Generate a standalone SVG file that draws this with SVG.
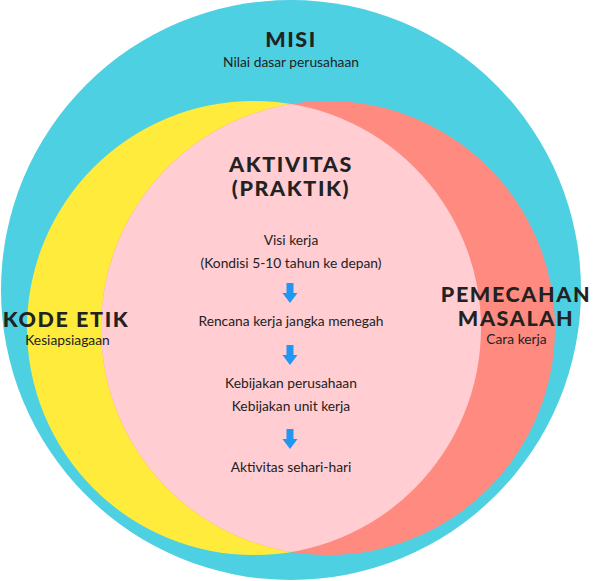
<svg xmlns="http://www.w3.org/2000/svg" width="594" height="581" viewBox="0 0 594 581">
<style>
.t{font-family:Lato,"Liberation Sans",sans-serif;font-weight:900;fill:#222;text-anchor:middle;font-size:21.5px;letter-spacing:1.6px}
.s{font-family:Lato,"Liberation Sans",sans-serif;fill:#222;text-anchor:middle;font-size:13.8px}
.arr{fill:#2196F3}
</style>
<defs>
<clipPath id="cy"><circle cx="254" cy="328" r="227"/></clipPath>
<symbol id="ar" viewBox="0 0 15 20" overflow="visible"><path class="arr" d="M4,0 H11 V10 H15 L7.5,20 L0,10 H4 Z"/></symbol>
</defs>
<g id="misi">
<circle cx="291" cy="290" r="290" fill="#4DD0E1"/>
<text class="t" x="291" y="47">MISI</text>
<text class="s" x="291" y="67">Nilai dasar perusahaan</text>
</g>
<g id="kode-etik">
<circle cx="254" cy="328" r="227" fill="#FFEB3B"/>
</g>
<g id="pemecahan-masalah">
<circle cx="328" cy="328" r="227" fill="#FF8A80"/>
</g>
<g id="aktivitas">
<circle cx="328" cy="328" r="227" fill="#FFCDD2" clip-path="url(#cy)"/>
<text class="t" x="291" y="172">AKTIVITAS</text>
<text class="t" x="291" y="195.5">(PRAKTIK)</text>
<text class="s" x="291" y="245">Visi kerja</text>
<text class="s" x="291" y="268">(Kondisi 5-10 tahun ke depan)</text>
<text class="s" x="291" y="326">Rencana kerja jangka menegah</text>
<text class="s" x="291" y="388">Kebijakan perusahaan</text>
<text class="s" x="291" y="411">Kebijakan unit kerja</text>
<text class="s" x="291" y="471.5">Aktivitas sehari-hari</text>
</g>
<g id="labels">
<text class="t" x="66" y="327">KODE ETIK</text>
<text class="s" x="67.5" y="345">Kesiapsiagaan</text>
<text class="t" x="516" y="302">PEMECAHAN</text>
<text class="t" x="516" y="325.5">MASALAH</text>
<text class="s" x="516.5" y="344">Cara kerja</text>
</g>
<g id="connectors">
<use href="#ar" x="282.5" y="283" width="15" height="20"/>
<use href="#ar" x="282.5" y="345" width="15" height="20"/>
<use href="#ar" x="282.5" y="429" width="15" height="20"/>
</g>
</svg>
